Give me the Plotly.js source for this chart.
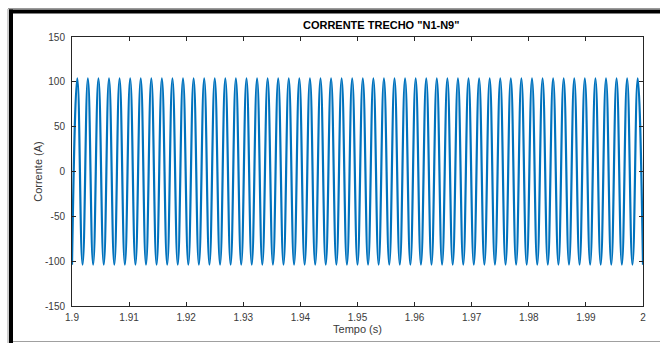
<!DOCTYPE html>
<html>
<head>
<meta charset="utf-8">
<script src="https://cdn.plot.ly/plotly-3.0.1.min.js"></script>
<style>
  html, body { margin: 0; padding: 0; background: #ffffff; }
  #chart { width: 660px; height: 343px; }
</style>
</head>
<body>
<div id="chart"></div>
<script>
// Times (s) of the successive troughs/peaks of the current waveform
const extremeTimes = [
  1.90000, 1.90093, 1.90185, 1.90278, 1.90370, 1.90463, 1.90556, 1.90648, 1.90741, 1.90833,
  1.90926, 1.91019, 1.91111, 1.91204, 1.91296, 1.91389, 1.91481, 1.91574, 1.91667, 1.91759,
  1.91852, 1.91944, 1.92037, 1.92130, 1.92222, 1.92315, 1.92407, 1.92500, 1.92593, 1.92685,
  1.92778, 1.92870, 1.92963, 1.93056, 1.93148, 1.93241, 1.93333, 1.93426, 1.93519, 1.93611,
  1.93704, 1.93796, 1.93889, 1.93981, 1.94074, 1.94167, 1.94259, 1.94352, 1.94444, 1.94537,
  1.94630, 1.94722, 1.94815, 1.94907, 1.95000, 1.95093, 1.95185, 1.95278, 1.95370, 1.95463,
  1.95556, 1.95648, 1.95741, 1.95833, 1.95926, 1.96019, 1.96111, 1.96204, 1.96296, 1.96389,
  1.96481, 1.96574, 1.96667, 1.96759, 1.96852, 1.96944, 1.97037, 1.97130, 1.97222, 1.97315,
  1.97407, 1.97500, 1.97593, 1.97685, 1.97778, 1.97870, 1.97963, 1.98056, 1.98148, 1.98241,
  1.98333, 1.98426, 1.98519, 1.98611, 1.98704, 1.98796, 1.98889, 1.98981, 1.99074, 1.99167,
  1.99259, 1.99352, 1.99444, 1.99537, 1.99630, 1.99722, 1.99815, 1.99907, 2.00000
];
// Current (A) at those troughs/peaks
const extremeCurrents = [
  -104, 104, -104, 104, -104, 104, -104, 104, -104, 104,
  -104, 104, -104, 104, -104, 104, -104, 104, -104, 104,
  -104, 104, -104, 104, -104, 104, -104, 104, -104, 104,
  -104, 104, -104, 104, -104, 104, -104, 104, -104, 104,
  -104, 104, -104, 104, -104, 104, -104, 104, -104, 104,
  -104, 104, -104, 104, -104, 104, -104, 104, -104, 104,
  -104, 104, -104, 104, -104, 104, -104, 104, -104, 104,
  -104, 104, -104, 104, -104, 104, -104, 104, -104, 104,
  -104, 104, -104, 104, -104, 104, -104, 104, -104, 104,
  -104, 104, -104, 104, -104, 104, -104, 104, -104, 104,
  -104, 104, -104, 104, -104, 104, -104, 104, -104
];
const xTicks = [1.9, 1.91, 1.92, 1.93, 1.94, 1.95, 1.96, 1.97, 1.98, 1.99, 2];
const xTickLabels = ['1.9', '1.91', '1.92', '1.93', '1.94', '1.95', '1.96', '1.97', '1.98', '1.99', '2'];
const yTicks = [-150, -100, -50, 0, 50, 100, 150];
const yTickLabels = ['-150', '-100', '-50', '0', '50', '100', '150'];

const axisColor = '#262626';
const fontFam = 'Liberation Sans, Arial, sans-serif';
const tickFont = { family: fontFam, size: 10, color: '#3a3a3a' };

const trace = {
  x: extremeTimes,
  y: extremeCurrents,
  type: 'scatter',
  mode: 'lines',
  line: { color: '#0072BD', width: 2.2, shape: 'spline', smoothing: 1.3 },
  hoverinfo: 'skip'
};

const layout = {
  width: 660,
  height: 343,
  margin: { l: 72, r: 17, t: 37, b: 37, pad: 0 },
  paper_bgcolor: '#ffffff',
  plot_bgcolor: '#ffffff',
  showlegend: false,
  title: {
    text: '<b>CORRENTE TRECHO "N1-N9"</b>',
    font: { family: fontFam, size: 11, color: '#000000' },
    x: 0.5415, xanchor: 'center', y: 0.927, yanchor: 'middle', xref: 'paper'
  },
  xaxis: {
    range: [1.9, 2.0],
    tickmode: 'array', tickvals: xTicks, ticktext: xTickLabels,
    ticks: 'inside', ticklen: 4, tickwidth: 1, tickcolor: axisColor,
    showline: true, linecolor: axisColor, linewidth: 1, mirror: 'ticks',
    showgrid: false, zeroline: false,
    tickfont: tickFont, ticklabelstandoff: 2,
    title: { text: 'Tempo (s)', font: { family: fontFam, size: 11, color: '#3a3a3a' }, standoff: 3 },
    automargin: false
  },
  yaxis: {
    range: [-150, 150],
    tickmode: 'array', tickvals: yTicks, ticktext: yTickLabels,
    ticks: 'inside', ticklen: 4, tickwidth: 1, tickcolor: axisColor,
    showline: true, linecolor: axisColor, linewidth: 1, mirror: 'ticks',
    showgrid: false, zeroline: false,
    tickfont: tickFont, ticklabelstandoff: 4,
    title: { text: 'Corrente (A)', font: { family: fontFam, size: 11, color: '#3a3a3a' }, standoff: 0 },
    automargin: false
  },
  shapes: [
    // figure frame (thick black top and left, thin grey outer/bottom)
    { type: 'line', xref: 'paper', yref: 'paper', x0: (8 - 72) / 571, x1: (8 - 72) / 571, y0: (306 - 9) / 269, y1: (306 - 343) / 269, line: { color: '#9a9a9a', width: 1 } },
    { type: 'line', xref: 'paper', yref: 'paper', x0: (8 - 72) / 571, x1: (662 - 72) / 571, y0: (306 - 8.5) / 269, y1: (306 - 8.5) / 269, line: { color: '#9a9a9a', width: 1 } },
    { type: 'line', xref: 'paper', yref: 'paper', x0: (11 - 72) / 571, x1: (11 - 72) / 571, y0: (306 - 9.5) / 269, y1: (306 - 345) / 269, line: { color: '#000000', width: 4 } },
    { type: 'line', xref: 'paper', yref: 'paper', x0: (9 - 72) / 571, x1: (662 - 72) / 571, y0: (306 - 11.5) / 269, y1: (306 - 11.5) / 269, line: { color: '#000000', width: 4 } },
    { type: 'line', xref: 'paper', yref: 'paper', x0: (13 - 72) / 571, x1: (662 - 72) / 571, y0: (306 - 341.5) / 269, y1: (306 - 341.5) / 269, line: { color: '#a0a0a0', width: 1 } }
  ]
};

Plotly.newPlot('chart', [trace], layout, { staticPlot: true, displayModeBar: false });
</script>
</body>
</html>
